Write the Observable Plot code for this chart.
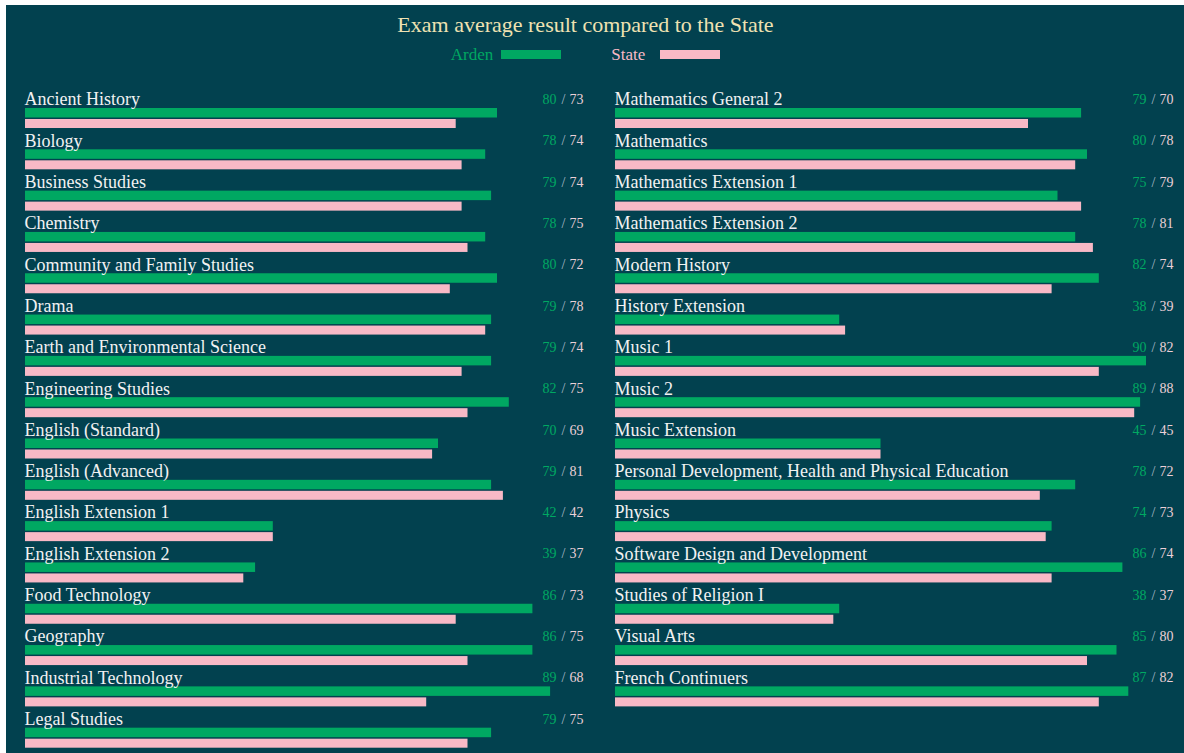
<!DOCTYPE html>
<html>
<head>
<meta charset="utf-8">
<script src="https://cdn.jsdelivr.net/npm/d3@7"></script>
<script src="https://cdn.jsdelivr.net/npm/@observablehq/plot@0.6"></script>
<style>
  html, body { margin: 0; padding: 0; background: #ffffff; overflow: hidden; }
  #wrap { position: absolute; left: 6px; top: 5px; width: 1200px; height: 760px; background: #02414f; overflow: hidden; }
  #title { position: absolute; left: 0; top: 9px; width: 1159px; text-align: center; font-family: "Liberation Serif", serif; font-size: 22px; line-height: 1; color: #efe2b2; }
  #legend { position: absolute; left: 0; top: 41px; width: 1159px; display: flex; justify-content: center; align-items: center; font-family: "Liberation Serif", serif; font-size: 17px; line-height: 1; }
  #legend .sw { display: inline-block; width: 60px; height: 9.5px; }
  #chart { position: absolute; left: 0; top: 60px; }
</style>
</head>
<body>
<div id="wrap">
  <div id="title">Exam average result compared to the State</div>
  <div id="legend"></div>
  <div id="chart"></div>
</div>
<script>
const leftSubjects = ["Ancient History", "Biology", "Business Studies", "Chemistry", "Community and Family Studies", "Drama", "Earth and Environmental Science", "Engineering Studies", "English (Standard)", "English (Advanced)", "English Extension 1", "English Extension 2", "Food Technology", "Geography", "Industrial Technology", "Legal Studies"];
const leftArden = [80, 78, 79, 78, 80, 79, 79, 82, 70, 79, 42, 39, 86, 86, 89, 79];
const leftState = [73, 74, 74, 75, 72, 78, 74, 75, 69, 81, 42, 37, 73, 75, 68, 75];

const rightSubjects = ["Mathematics General 2", "Mathematics", "Mathematics Extension 1", "Mathematics Extension 2", "Modern History", "History Extension", "Music 1", "Music 2", "Music Extension", "Personal Development, Health and Physical Education", "Physics", "Software Design and Development", "Studies of Religion I", "Visual Arts", "French Continuers"];
const rightArden = [79, 80, 75, 78, 82, 38, 90, 89, 45, 78, 74, 86, 38, 85, 87];
const rightState = [70, 78, 79, 81, 74, 39, 82, 88, 45, 72, 73, 74, 37, 80, 82];

const seriesNames = ["Arden", "State"];
const green = "#00a862";
const pink = "#f8b9c6";

const rows = [];
leftSubjects.forEach((s, i) => rows.push({col: 0, row: i, subject: s, arden: leftArden[i], state: leftState[i]}));
rightSubjects.forEach((s, i) => rows.push({col: 1, row: i, subject: s, arden: rightArden[i], state: rightState[i]}));

// legend
const legend = document.getElementById("legend");
legend.innerHTML =
  `<span style="color:${green}">${seriesNames[0]}</span>` +
  `<span class="sw" style="background:${green};margin-left:8px"></span>` +
  `<span style="color:${pink};margin-left:50px">${seriesNames[1]}</span>` +
  `<span class="sw" style="background:${pink};margin-left:15px"></span>`;

const nRows = d3.max(rows, d => d.row) + 1;
const serif = '"Liberation Serif", serif';

const chart = Plot.plot({
  width: 1199,
  height: 683,
  marginLeft: 19,
  marginRight: 0,
  marginTop: 22,
  marginBottom: 0,
  style: {background: "transparent", fontFamily: serif, overflow: "visible"},
  facet: {data: rows, x: "col"},
  fx: {domain: [0, 1], padding: 0, round: false, axis: null, label: null},
  x: {domain: [0, 100], axis: null},
  y: {type: "band", domain: d3.range(nRows), padding: 0, round: false, axis: null},
  marks: [
    Plot.barX(rows, {y: "row", x: "arden", fill: green, insetTop: 21, insetBottom: 10.8}),
    Plot.barX(rows, {y: "row", x: "state", fill: pink, insetTop: 32, insetBottom: 0.3}),
    Plot.text(rows, {y: "row", x: 0, text: "subject", textAnchor: "start", dx: -1, dy: -8.6, fontSize: 18, fill: "#f2f2f2"}),
    Plot.text(rows, {y: "row", x: 100, text: d => String(d.state), textAnchor: "end", dx: -32, dy: -8.6, fontSize: 14, fill: "#ecd0d7"}),
    Plot.text(rows, {y: "row", x: 100, text: () => "/", textAnchor: "middle", dx: -52, dy: -8.6, fontSize: 14, fill: "#a9b9c6"}),
    Plot.text(rows, {y: "row", x: 100, text: d => String(d.arden), textAnchor: "end", dx: -59, dy: -8.6, fontSize: 14, fill: green})
  ]
});
document.getElementById("chart").appendChild(chart);
</script>
</body>
</html>
